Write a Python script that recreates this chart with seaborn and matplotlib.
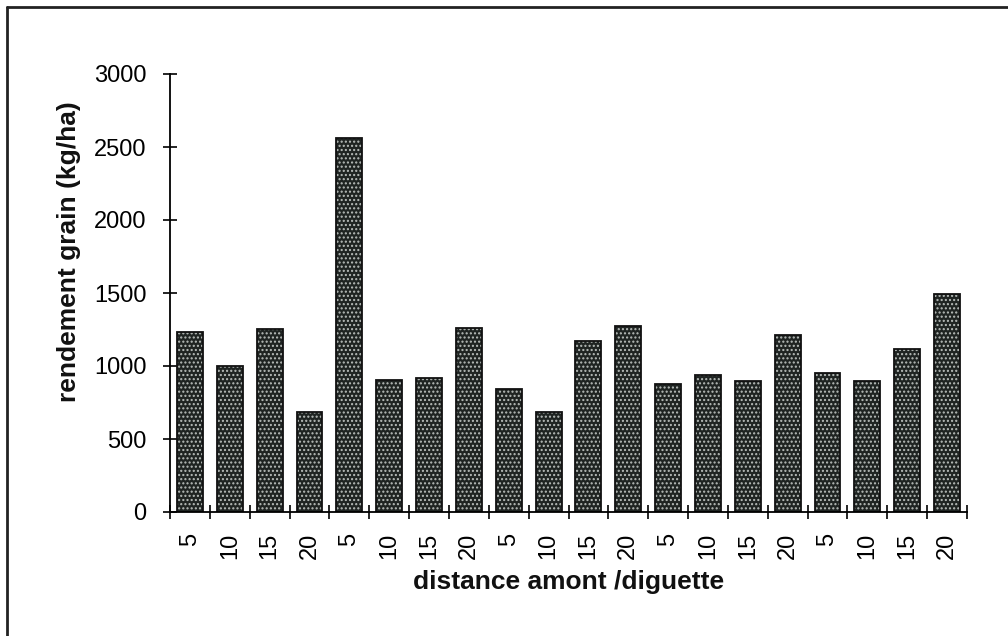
import matplotlib
matplotlib.use("Agg")
import matplotlib.pyplot as plt
import seaborn as sns
import pandas as pd
import numpy as np
from matplotlib.lines import Line2D

# Grain yield by upstream distance from the diguette, five series of four distances
distances = [5, 10, 15, 20] * 5
yields = [1235, 1000, 1255, 685, 2560,
          905, 915, 1260, 840, 685,
          1170, 1275, 875, 935, 900,
          1215, 955, 900, 1115, 1490]
y_ticks = [0, 500, 1000, 1500, 2000, 2500, 3000]

sns.set_theme(style="white")
plt.rcParams["font.family"] = ["Liberation Sans", "DejaVu Sans"]
plt.rcParams["hatch.linewidth"] = 1.0

df = pd.DataFrame({"pos": np.arange(len(yields)), "rendement": yields})

fig = plt.figure(figsize=(10.08, 6.36), dpi=100)
ax = fig.add_axes([170 / 1008, 1 - 512 / 636, (967 - 170) / 1008, (512 - 74) / 636])

# dotted dark fill
sns.barplot(data=df, x="pos", y="rendement", ax=ax, color="#1f2422",
            saturation=1, width=0.65, edgecolor="#b9bebb", linewidth=0,
            hatch="....", errorbar=None)
# solid outline on top
sns.barplot(data=df, x="pos", y="rendement", ax=ax, color="#111111",
            fill=False, width=0.65, linewidth=1.3, errorbar=None)

ax.set_ylim(0, 3000)
ax.set_xlim(-0.5, len(yields) - 0.5)
ax.set_yticks(y_ticks)
ax.set_yticklabels([str(v) for v in y_ticks], fontsize=17)

ax.set_xticks(np.arange(len(yields)))
ax.set_xticklabels([str(d) for d in distances], rotation=90, fontsize=17)
ax.set_xticks(np.arange(-0.5, len(yields)), minor=True)
ax.tick_params(axis="x", which="both", bottom=True)
ax.tick_params(axis="x", which="major", length=0, pad=15, colors="black")
ax.tick_params(axis="x", which="minor", direction="inout", length=10,
               width=1.2, color="black")
ax.tick_params(axis="y", which="major", left=True, direction="inout", length=10,
               width=1.2, color="black", pad=12, labelcolor="black")

for side in ("top", "right"):
    ax.spines[side].set_visible(False)
for side in ("left", "bottom"):
    ax.spines[side].set_color("black")
    ax.spines[side].set_linewidth(1.3)

ax.set_xlabel("distance amont /diguette", fontsize=19, fontweight="bold",
              color="#111111", labelpad=8)
ax.set_ylabel("rendement grain (kg/ha)", fontsize=19, fontweight="bold",
              color="#111111")
ax.yaxis.set_label_coords(-0.112, 0.594)

# frame around the figure (top and left edges)
fig.add_artist(Line2D([7 / 1008, 1.0], [1 - 7 / 636, 1 - 7 / 636],
                      transform=fig.transFigure, color="#222222", lw=2))
fig.add_artist(Line2D([7 / 1008, 7 / 1008], [0.0, 1 - 7 / 636],
                      transform=fig.transFigure, color="#222222", lw=2))

fig.savefig("out.png", dpi=100, facecolor="white")
